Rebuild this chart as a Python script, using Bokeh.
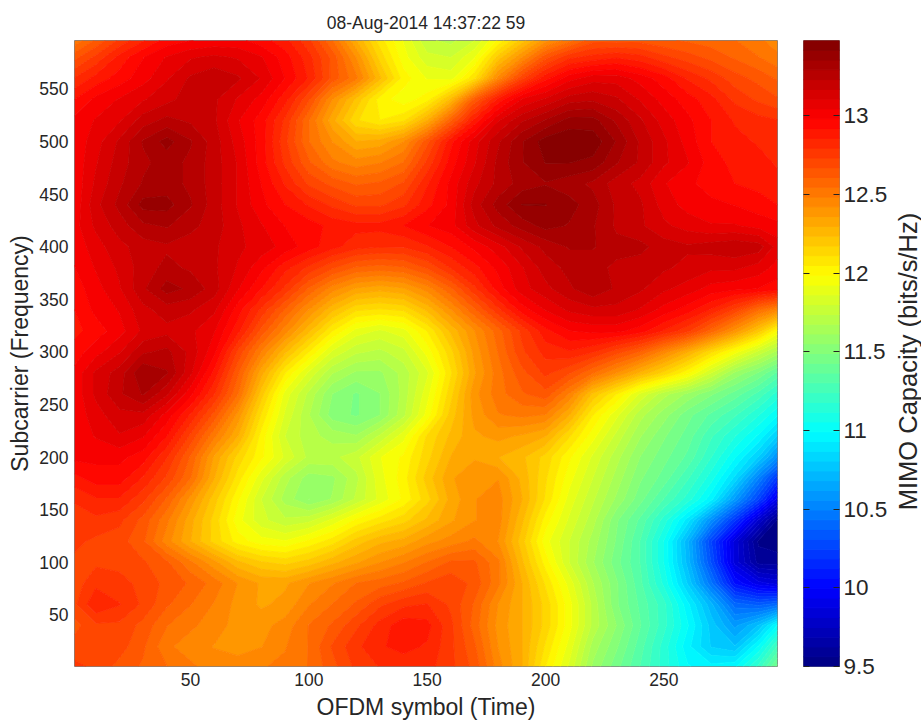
import numpy as np
from bokeh.embed import file_html
from bokeh.resources import INLINE
from bokeh.plotting import figure
from bokeh.layouts import row
from bokeh.models import Range1d, LinearAxis, FixedTicker, Label

title_text = "08-Aug-2014 14:37:22 59"
x_label = "OFDM symbol (Time)"
y_label = "Subcarrier (Frequency)"
cb_label = "MIMO Capacity (bits/s/Hz)"

symbols = [1, 10, 20, 30, 40, 50, 60, 70, 80, 90, 100, 110, 120, 130, 140, 150, 160, 170, 180, 190,
           200, 210, 220, 230, 240, 250, 260, 270, 280, 290, 298]
subcarriers = [1, 20, 40, 60, 80, 100, 120, 140, 160, 180, 200, 220, 240, 260, 280, 300, 320, 340,
               360, 380, 400, 420, 440, 460, 480, 500, 520, 540, 560, 580, 596]

cap_001 = [12.75,12.72,12.65,12.6,12.55,12.5,12.45,12.45,12.48,12.5,12.55,12.65,12.75,12.8,12.82,12.82,12.75,12.65,12.45,12.3,12.05,11.85,11.6,11.45,11.3,11.15,11.0,10.95,10.98,11.2,11.45]
cap_020 = [12.7,12.7,12.7,12.62,12.5,12.45,12.42,12.4,12.42,12.48,12.55,12.68,12.78,12.85,12.88,12.85,12.75,12.62,12.42,12.3,12.1,11.9,11.65,11.5,11.33,11.15,10.95,10.8,10.75,11.0,11.25]
cap_040 = [12.65,12.72,12.72,12.65,12.55,12.5,12.45,12.4,12.4,12.45,12.55,12.62,12.72,12.82,12.9,12.88,12.75,12.58,12.4,12.3,12.15,11.95,11.72,11.55,11.37,11.2,11.0,10.78,10.6,10.75,11.0]
cap_060 = [12.72,12.85,12.8,12.72,12.62,12.55,12.48,12.4,12.35,12.38,12.48,12.55,12.62,12.72,12.78,12.8,12.72,12.6,12.42,12.3,12.15,11.95,11.72,11.5,11.35,11.2,10.95,10.7,10.4,10.35,10.4]
cap_080 = [12.7,12.78,12.75,12.72,12.65,12.6,12.52,12.42,12.35,12.35,12.42,12.48,12.55,12.58,12.62,12.68,12.72,12.65,12.5,12.3,12.1,11.9,11.68,11.5,11.32,11.1,10.8,10.45,10.05,9.9,9.85]
cap_100 = [12.72,12.72,12.72,12.68,12.62,12.5,12.38,12.25,12.18,12.15,12.2,12.28,12.35,12.42,12.48,12.55,12.62,12.62,12.5,12.25,12.02,11.8,11.62,11.45,11.3,11.05,10.72,10.3,9.85,9.6,9.6]
cap_120 = [12.75,12.72,12.7,12.62,12.45,12.3,12.15,12.02,11.95,11.93,12.0,12.08,12.2,12.28,12.32,12.4,12.45,12.5,12.42,12.2,11.95,11.8,11.65,11.48,11.3,11.05,10.7,10.25,9.85,9.55,9.52]
cap_140 = [12.78,12.78,12.75,12.65,12.5,12.32,12.15,11.95,11.82,11.75,11.78,11.88,12.0,12.08,12.15,12.25,12.35,12.42,12.45,12.25,12.02,11.85,11.7,11.5,11.35,11.15,10.9,10.55,10.2,9.8,9.55]
cap_160 = [12.8,12.85,12.85,12.75,12.6,12.4,12.2,12.0,11.8,11.65,11.55,11.62,11.75,11.88,12.0,12.15,12.32,12.42,12.45,12.3,12.1,11.9,11.75,11.6,11.45,11.3,11.15,10.95,10.6,10.25,9.9]
cap_180 = [12.9,12.95,12.95,12.85,12.72,12.55,12.3,12.08,11.88,11.7,11.58,11.6,11.72,11.9,12.02,12.2,12.35,12.42,12.42,12.28,12.12,11.95,11.8,11.65,11.5,11.4,11.25,11.08,10.85,10.5,10.2]
cap_200 = [13.0,13.0,13.0,12.95,12.8,12.6,12.35,12.15,12.0,11.85,11.72,11.72,11.78,11.92,12.0,12.15,12.3,12.35,12.3,12.25,12.15,12.0,11.85,11.7,11.55,11.45,11.35,11.18,11.0,10.8,10.55]
cap_220 = [13.0,13.05,13.1,13.05,12.92,12.72,12.5,12.3,12.02,11.8,11.7,11.65,11.62,11.75,11.9,12.12,12.25,12.35,12.38,12.35,12.3,12.12,11.95,11.78,11.62,11.5,11.4,11.25,11.12,10.98,10.8]
cap_240 = [13.0,13.08,13.15,13.15,13.02,12.85,12.65,12.4,12.1,11.85,11.68,11.52,11.48,11.55,11.72,11.95,12.2,12.38,12.48,12.5,12.48,12.3,12.05,11.88,11.7,11.58,11.45,11.35,11.25,11.12,11.0]
cap_260 = [13.0,13.12,13.22,13.3,13.18,13.0,12.8,12.55,12.2,11.9,11.72,11.55,11.48,11.55,11.7,11.9,12.15,12.4,12.52,12.6,12.65,12.48,12.22,12.05,11.85,11.7,11.6,11.5,11.4,11.28,11.15]
cap_280 = [13.0,13.12,13.2,13.35,13.3,13.12,12.9,12.62,12.32,12.05,11.85,11.68,11.6,11.6,11.7,11.85,12.1,12.35,12.52,12.65,12.75,12.68,12.55,12.42,12.28,12.15,12.0,11.8,11.6,11.48,11.35]
cap_300 = [12.95,13.02,13.1,13.22,13.25,13.15,13.0,12.72,12.48,12.25,12.05,11.85,11.75,11.72,11.78,11.95,12.15,12.38,12.55,12.72,12.82,12.85,12.8,12.7,12.6,12.45,12.3,12.12,11.95,11.78,11.65]
cap_320 = [12.9,12.95,13.02,13.12,13.15,13.12,13.05,12.88,12.65,12.45,12.25,12.05,11.9,11.85,11.9,12.05,12.25,12.42,12.58,12.75,12.9,12.98,13.0,13.0,12.95,12.85,12.75,12.58,12.4,12.2,11.98]
cap_340 = [12.92,13.0,13.05,13.15,13.2,13.18,13.12,12.95,12.78,12.6,12.42,12.25,12.12,12.1,12.12,12.25,12.42,12.6,12.78,12.95,13.05,13.12,13.15,13.15,13.1,13.02,12.95,12.85,12.72,12.55,12.45]
cap_360 = [12.95,13.02,13.1,13.22,13.32,13.28,13.2,13.05,12.92,12.78,12.6,12.45,12.35,12.32,12.35,12.45,12.6,12.78,12.95,13.08,13.15,13.22,13.28,13.22,13.18,13.12,13.08,13.02,13.0,12.98,12.95]
cap_380 = [12.98,13.05,13.12,13.2,13.25,13.22,13.18,13.1,13.0,12.88,12.78,12.68,12.6,12.58,12.6,12.68,12.8,12.9,13.0,13.1,13.2,13.25,13.25,13.22,13.2,13.18,13.15,13.12,13.12,13.08,13.02]
cap_400 = [13.0,13.08,13.15,13.2,13.22,13.2,13.18,13.12,13.08,13.02,12.95,12.88,12.82,12.8,12.8,12.85,12.92,13.0,13.08,13.18,13.25,13.3,13.3,13.25,13.25,13.2,13.18,13.2,13.22,13.2,13.08]
cap_420 = [13.02,13.12,13.2,13.28,13.3,13.25,13.2,13.12,13.05,12.98,12.95,12.9,12.88,12.88,12.92,12.98,13.02,13.15,13.25,13.32,13.38,13.35,13.3,13.22,13.18,13.12,13.08,13.05,13.05,13.02,13.0]
cap_440 = [13.0,13.15,13.25,13.38,13.38,13.3,13.2,13.1,13.0,12.92,12.85,12.78,12.72,12.72,12.78,12.9,13.0,13.2,13.32,13.42,13.42,13.38,13.32,13.22,13.18,13.08,13.02,13.0,12.98,12.95,12.92]
cap_460 = [13.0,13.12,13.22,13.3,13.32,13.28,13.2,13.1,12.98,12.85,12.72,12.65,12.6,12.62,12.68,12.85,13.0,13.15,13.25,13.32,13.35,13.32,13.28,13.2,13.15,13.05,13.0,12.95,12.92,12.9,12.88]
cap_480 = [13.0,13.1,13.2,13.28,13.32,13.28,13.2,13.1,12.95,12.78,12.62,12.5,12.45,12.48,12.55,12.75,12.95,13.1,13.25,13.35,13.42,13.42,13.4,13.3,13.22,13.12,13.05,12.95,12.9,12.88,12.85]
cap_500 = [13.0,13.08,13.18,13.3,13.38,13.3,13.2,13.08,12.95,12.75,12.55,12.42,12.3,12.32,12.42,12.65,12.9,13.08,13.22,13.35,13.45,13.47,13.46,13.35,13.22,13.12,13.02,12.92,12.88,12.85,12.82]
cap_520 = [13.0,13.05,13.1,13.2,13.25,13.22,13.18,13.05,12.95,12.78,12.55,12.32,12.12,12.05,12.1,12.3,12.6,12.88,13.1,13.22,13.3,13.38,13.38,13.28,13.18,13.08,13.0,12.92,12.85,12.82,12.8]
cap_540 = [12.92,13.0,13.05,13.1,13.15,13.2,13.18,13.1,13.02,12.88,12.68,12.42,12.22,12.02,11.95,12.02,12.25,12.62,12.88,13.05,13.12,13.2,13.22,13.18,13.1,13.02,12.95,12.88,12.78,12.72,12.68]
cap_560 = [12.8,12.88,12.95,13.02,13.1,13.18,13.22,13.18,13.1,12.98,12.85,12.65,12.5,12.25,12.02,11.92,11.9,12.1,12.45,12.72,12.9,13.02,13.08,13.08,13.02,12.95,12.85,12.78,12.7,12.65,12.6]
cap_580 = [12.65,12.75,12.88,12.98,13.05,13.1,13.12,13.1,13.05,12.95,12.82,12.65,12.42,12.15,11.95,11.82,11.8,11.92,12.2,12.42,12.65,12.78,12.82,12.85,12.82,12.75,12.7,12.65,12.6,12.55,12.5]
cap_596 = [12.5,12.62,12.75,12.85,12.95,12.98,13.0,13.0,12.95,12.88,12.75,12.55,12.3,12.08,11.92,11.75,11.72,11.8,12.0,12.2,12.4,12.52,12.65,12.65,12.65,12.62,12.6,12.58,12.55,12.5,12.45]

x_ticks = [50, 100, 150, 200, 250]
y_ticks = [50, 100, 150, 200, 250, 300, 350, 400, 450, 500, 550]
cb_ticks = [9.5, 10, 10.5, 11, 11.5, 12, 12.5, 13]
cb_low, cb_high = 9.5, 13.48


def jet(n):
    t = (np.arange(n) + 0.5) / n
    r = np.clip(1.5 - np.abs(4 * t - 3), 0, 1)
    g = np.clip(1.5 - np.abs(4 * t - 2), 0, 1)
    b = np.clip(1.5 - np.abs(4 * t - 1), 0, 1)
    return ["#%02x%02x%02x" % (int(a * 255), int(c * 255), int(d * 255)) for a, c, d in zip(r, g, b)]


palette = jet(64)
levels = np.linspace(cb_low, cb_high, 65)
grid = np.array([cap_001, cap_020, cap_040, cap_060, cap_080, cap_100, cap_120, cap_140, cap_160,
                 cap_180, cap_200, cap_220, cap_240, cap_260, cap_280, cap_300, cap_320, cap_340,
                 cap_360, cap_380, cap_400, cap_420, cap_440, cap_460, cap_480, cap_500, cap_520,
                 cap_540, cap_560, cap_580, cap_596])

FONT = "Liberation Sans"
TXT = "#262626"

p = figure(frame_width=703, frame_height=626, min_border_left=74, min_border_right=26,
           min_border_top=40, min_border_bottom=58,
           x_range=Range1d(symbols[0], symbols[-1]), y_range=Range1d(subcarriers[0], subcarriers[-1]),
           output_backend="svg", toolbar_location=None, title=title_text)
p.title.align = "center"
p.title.text_font = FONT
p.title.text_font_size = "17.5px"
p.title.text_font_style = "normal"
p.title.text_color = TXT
p.title.standoff = 16
p.grid.visible = False
p.outline_line_color = "#808080"
p.contour(symbols, subcarriers, grid, levels, fill_color=palette,
          line_color=palette + [palette[-1]], line_width=1)
for ax, ticks, label in ((p.xaxis[0], x_ticks, x_label), (p.yaxis[0], y_ticks, y_label)):
    ax.ticker = FixedTicker(ticks=ticks)
    ax.axis_label = label
    ax.axis_label_text_font = FONT
    ax.axis_label_text_font_size = "23px"
    ax.axis_label_text_font_style = "normal"
    ax.axis_label_text_color = TXT
    ax.major_label_text_font = FONT
    ax.major_label_text_font_size = "17.5px"
    ax.major_label_text_color = TXT
    ax.major_tick_in = 0
    ax.major_tick_out = 0
    ax.minor_tick_line_color = None
    ax.axis_line_color = None
    ax.major_label_standoff = 6
p.xaxis[0].axis_label_standoff = 5
p.yaxis[0].axis_label_standoff = 3
p.yaxis[0].major_label_orientation = "horizontal"

cb = figure(frame_width=36, frame_height=626, min_border_left=0, min_border_right=50,
            min_border_top=40, min_border_bottom=58,
            x_range=Range1d(0, 1), y_range=Range1d(cb_low, cb_high),
            output_backend="svg", toolbar_location=None, y_axis_location="right")
cb.grid.visible = False
cb.xaxis.visible = False
cb.outline_line_color = "#808080"
cb.quad(left=0, right=1, bottom=levels[:-1], top=levels[1:], fill_color=palette, line_color=palette)
ra = cb.yaxis[0]
ra.ticker = FixedTicker(ticks=cb_ticks)
ra.major_tick_in = 6
ra.major_tick_out = 0
ra.major_tick_line_color = "#222222"
ra.minor_tick_line_color = None
ra.axis_line_color = None
ra.major_label_text_font = FONT
ra.major_label_text_font_size = "22.5px"
ra.major_label_text_color = TXT
ra.major_label_standoff = 4
la = LinearAxis(ticker=FixedTicker(ticks=cb_ticks), major_tick_in=6, major_tick_out=0,
                major_tick_line_color="#222222", minor_tick_line_color=None, axis_line_color=None,
                major_label_overrides={t: "" for t in cb_ticks}, major_label_text_font_size="1px",
                major_label_standoff=0)
cb.add_layout(la, "left")

side = figure(frame_width=31, frame_height=626, min_border_left=0, min_border_right=0,
              min_border_top=40, min_border_bottom=58, x_axis_location=None, y_axis_location=None,
              x_range=Range1d(0, 31), y_range=Range1d(0, 626),
              output_backend="svg", toolbar_location=None, outline_line_color=None)
side.grid.visible = False
side.add_layout(Label(x=17, y=305, text=cb_label, angle=float(np.pi / 2), text_align="center",
                      text_baseline="middle", text_font=FONT, text_font_size="25.5px", text_color=TXT))

page = row(p, cb, side, spacing=0)
open("out.html", "w").write(file_html(page, INLINE))
